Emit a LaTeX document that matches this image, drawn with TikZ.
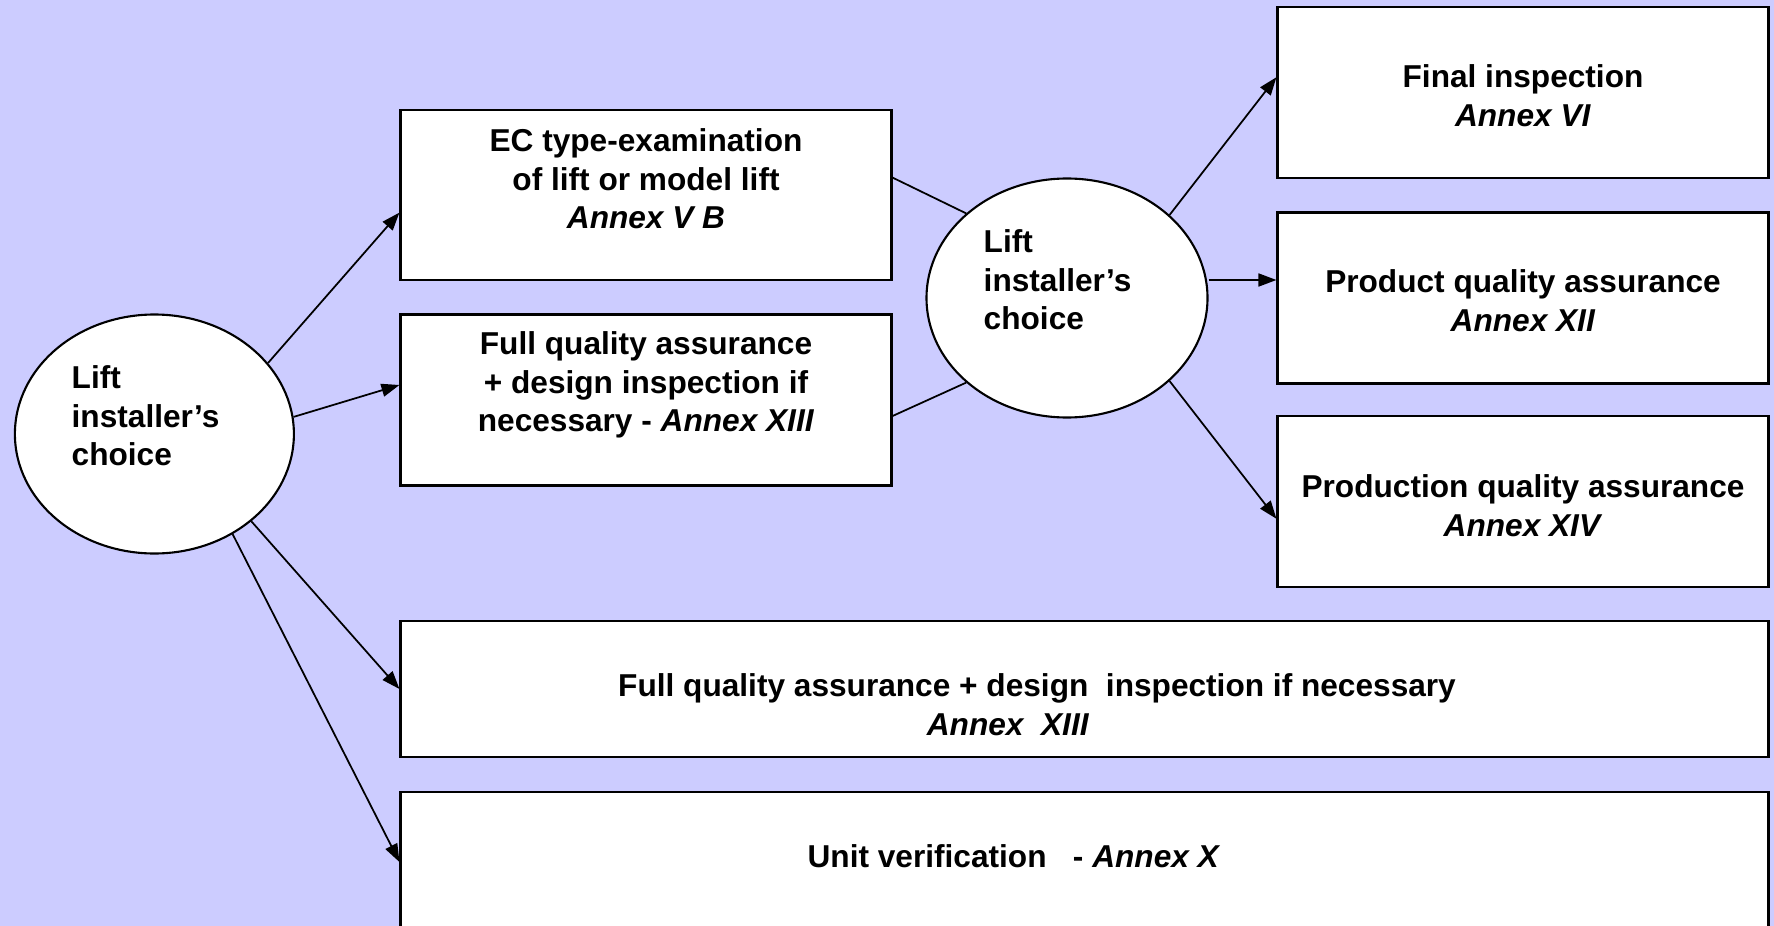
\documentclass[tikz,border=0pt]{standalone}
\usepackage{fontspec}
\setmainfont{Liberation Sans}
\usetikzlibrary{arrows.meta,shapes.geometric}
\begin{document}
\begin{tikzpicture}[x=0.1mm, y=-0.1mm,
    font=\fontsize{9}{11}\selectfont\bfseries,
    box/.style={draw, fill=white, line width=0.6pt, inner sep=0pt},
    choice/.style={draw, fill=white, ellipse, line width=0.6pt, inner sep=0pt},
    boxtext/.style={align=center, inner sep=0pt},
    choicetext/.style={align=left, anchor=west, inner sep=0pt},
    arrow/.style={line width=0.5pt, -{Triangle[length=1.8mm,width=1.3mm]}},
    link/.style={line width=0.5pt}]
    \definecolor{my-lilac}{RGB}{204,204,255}
    \useasboundingbox (0,0) rectangle (1774,926);
    \clip (0,0) rectangle (1774,926);
    \fill[my-lilac] (0,0) rectangle (1774,926);
    \node[box, minimum width=49.1mm, minimum height=17mm] (ec) at (646,194.6) {};
    \node[box, minimum width=49.1mm, minimum height=17.1mm] (fqa) at (646,400) {};
    \node[box, minimum width=49.1mm, minimum height=17.1mm] (final) at (1523,92.2) {};
    \node[box, minimum width=49.1mm, minimum height=17.1mm] (product) at (1523,298) {};
    \node[box, minimum width=49.1mm, minimum height=17.1mm] (production) at (1523,501.8) {};
    \node[box, minimum width=136.8mm, minimum height=13.6mm] (wide) at (1084.5,689) {};
    \node[box, minimum width=136.8mm, minimum height=14mm] (unit) at (1084.5,862) {};
    \node[choice, minimum width=27.9mm, minimum height=23.9mm] (left) at (154.4,434) {};
    \node[choice, minimum width=28.1mm, minimum height=23.9mm] (mid) at (1067,298) {};
    \node[boxtext] (ectext) at (646,179) {EC type-examination\\ of lift or model lift\\ \textit{Annex V B}};
    \node[boxtext] (fqatext) at (646,385) {Full quality assurance\\ + design inspection if\\ necessary - \textit{Annex XIII}};
    \node[boxtext] (finaltext) at (1523,95.6) {Final inspection\\ \textit{Annex VI}};
    \node[boxtext] (producttext) at (1523,301) {Product quality assurance\\ \textit{Annex XII}};
    \node[boxtext] (productiontext) at (1523,506) {Production quality assurance\\ \textit{Annex XIV}};
    \node[boxtext] (widetext) at (1037,705) {Full quality assurance + design\ \ inspection if necessary\\ \textit{Annex\ \ XIII}\hspace*{5.8mm}};
    \node[boxtext] (unittext) at (1014,856.5) {Unit verification\ \ \ - \textit{Annex X}};
    \node[choicetext] (lefttext) at (71,416) {Lift\\ installer’s\\ choice};
    \node[choicetext] (midtext) at (983,280) {Lift\\ installer’s\\ choice};
    \draw[arrow] (left.32) -- ([yshift=-1.8mm]ec.west);
    \draw[arrow] (left.7) -- ([yshift=1.5mm]fqa.west);
    \draw[arrow] (left.-42) -- (wide.west);
    \draw[arrow] (left.-52) -- (unit.west);
    \draw[link] ([yshift=1.7mm]ec.east) -- (mid.140);
    \draw[link] ([yshift=-1.6mm]fqa.east) -- (mid.220);
    \draw[arrow] (mid.39) -- ([yshift=1.5mm]final.west);
    \draw[arrow] ([yshift=1.8mm]mid.east) -- ([yshift=1.8mm]product.west);
    \draw[arrow] (mid.-39) -- ([yshift=-1.7mm]production.west);
  \end{tikzpicture}
\end{document}
